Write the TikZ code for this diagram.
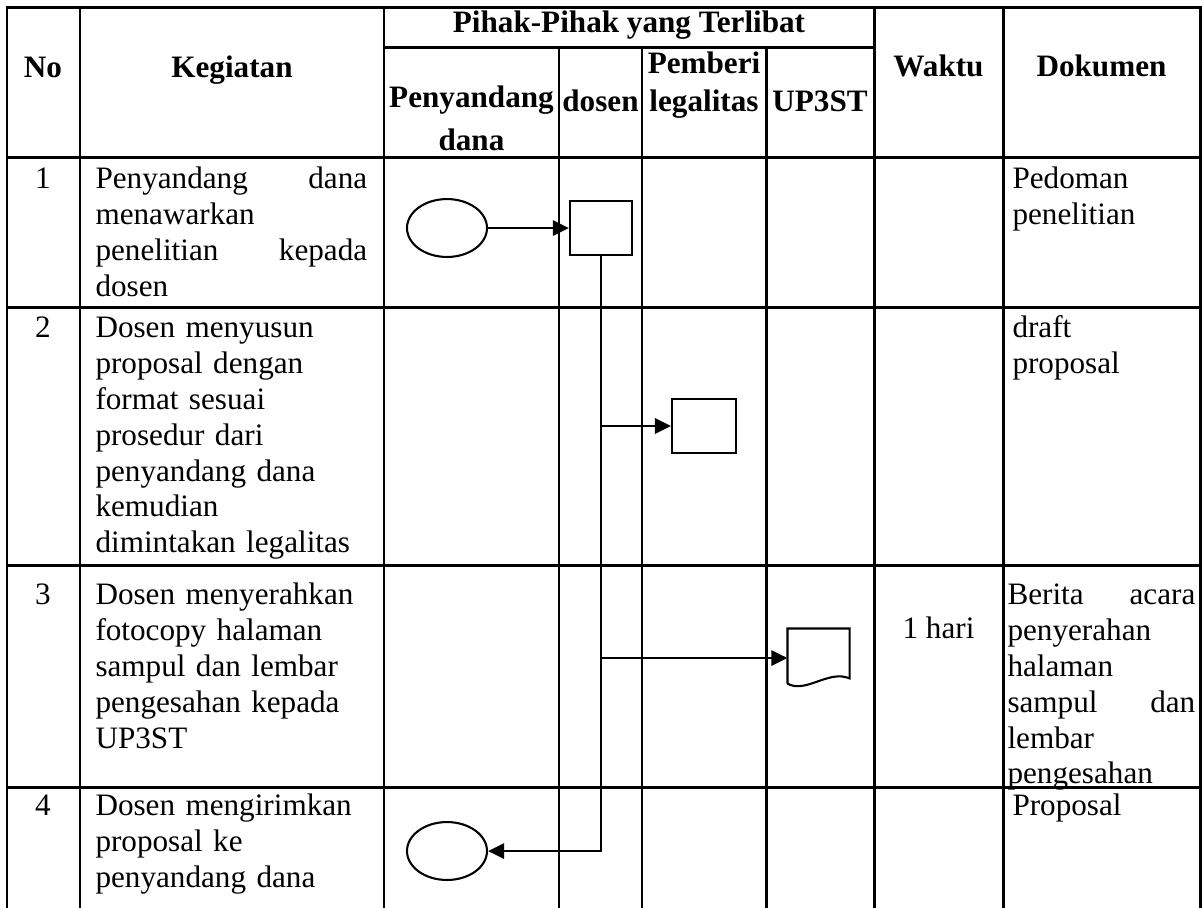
\documentclass[tikz,border=0pt]{standalone}
\usepackage{fontspec}
\setmainfont{Liberation Serif}
\usetikzlibrary{arrows.meta,shapes.geometric}

\begin{document}
\begin{tikzpicture}[x=0.385pt, y=-0.385pt, >={Triangle[length=6.2pt,width=5.8pt]},
    grid/.style={line width=1.15pt, line cap=rect},
    hd/.style={font=\bfseries\fontsize{12}{13.8}\selectfont, inner sep=0pt, anchor=base},
    hdtwo/.style={font=\bfseries\fontsize{12}{13.8}\selectfont, inner sep=0pt, anchor=north, align=center, execute at begin node=\strut},
    num/.style={font=\fontsize{12}{13.8}\selectfont, inner sep=0pt, anchor=north, execute at begin node=\strut},
    txt/.style={font=\fontsize{12}{13.8}\selectfont, inner sep=0pt, anchor=north west, align=left, text width=#1, execute at begin node=\strut},
    txt/.default=104.6pt,
    term/.style={ellipse, draw, line width=0.8pt, minimum width=30.8pt, minimum height=22.3pt, inner sep=0pt},
    proc/.style={draw, line width=0.8pt, minimum width=#1, minimum height=20.8pt, inner sep=0pt},
    proc/.default=23.9pt,
    docbox/.style={minimum width=23.5pt, minimum height=22.3pt, inner sep=0pt},
    flow/.style={->, line width=1.1pt}]
    \useasboundingbox (0,0) rectangle (1203,907);
    \foreach \y in {7,157,307,565,787} \draw[grid] (7,\y) -- (1200,\y);
    \draw[grid] (384,47) -- (874,47);
    \foreach \x in {7,80,384,874,1003,1200} \draw[grid] (\x,7) -- (\x,907);
    \foreach \x in {559,642,766} \draw[grid] (\x,47) -- (\x,907);

    \node[hd] (hno) at (43,77) {No};
    \node[hd] (hkeg) at (232,77) {Kegiatan};
    \node[hd] (hpihak) at (629,32) {Pihak-Pihak yang Terlibat};
    \node[hdtwo] (hdana) at (471.5,85) {Penyandang\\[3pt]dana};
    \node[hd] (hdosen) at (600.5,111) {dosen};
    \node[hdtwo] (hlegal) at (704,51) {Pemberi\\[1pt]legalitas};
    \node[hd] (hup) at (820,111) {UP3ST};
    \node[hd] (hwaktu) at (938.5,76) {Waktu};
    \node[hd] (hdok) at (1101.5,76) {Dokumen};

    \node[num] (n1) at (43,163) {1};
    \node[txt] (k1) at (95,163) {Penyandang\hfill dana\\menawarkan\\penelitian\hfill kepada\\dosen};
    \node[txt=72.3pt] (dk1) at (1012,163) {Pedoman\\penelitian};

    \node[num] (n2) at (43,312) {2};
    \node[txt] (k2) at (95,312) {Dosen menyusun\\proposal dengan\\format sesuai\\prosedur dari\\penyandang dana\\kemudian\\dimintakan legalitas};
    \node[txt=72.3pt] (dk2) at (1012,312) {draft\\proposal};

    \node[num] (n3) at (43,579) {3};
    \node[txt] (k3) at (95,579) {Dosen menyerahkan\\fotocopy halaman\\sampul dan lembar\\pengesahan kepada\\UP3ST};
    \node[num] (w3) at (938.5,613) {1 hari};
    \node[txt=72.3pt] (dk3) at (1007,579) {Berita\hfill acara\\penyerahan\\halaman\\sampul\hfill dan\\lembar\\pengesahan};

    \node[num] (n4) at (43,790) {4};
    \node[txt] (k4) at (95,790) {Dosen mengirimkan\\proposal ke\\penyandang dana};
    \node[txt=72.3pt] (dk4) at (1012,790) {Proposal};

    \node[term] (e1) at (447,228) {};
    \node[proc] (b1) at (601,228) {};
    \node[proc=24.6pt] (b2) at (704,426) {};
    \node[docbox] (d3) at (818.5,658) {};
    \node[term] (e4) at (447,851) {};
    \draw[line width=0.8pt] ([yshift=1.5pt]d3.south west) -- (d3.north west) -- (d3.north east) -- ([yshift=3.5pt]d3.south east)
      .. controls ([xshift=-8pt,yshift=7pt]d3.south east) and ([xshift=7pt,yshift=-2.5pt]d3.south west) .. ([yshift=1.5pt]d3.south west);

    \draw[flow] (e1) -- (b1);
    \draw[flow] (b1.south |- b2.west) -- (b2.west);
    \draw[flow] (b1.south |- d3.west) -- (d3.west);
    \draw[flow] (b1.south) |- (e4.east);
\end{tikzpicture}
\end{document}
